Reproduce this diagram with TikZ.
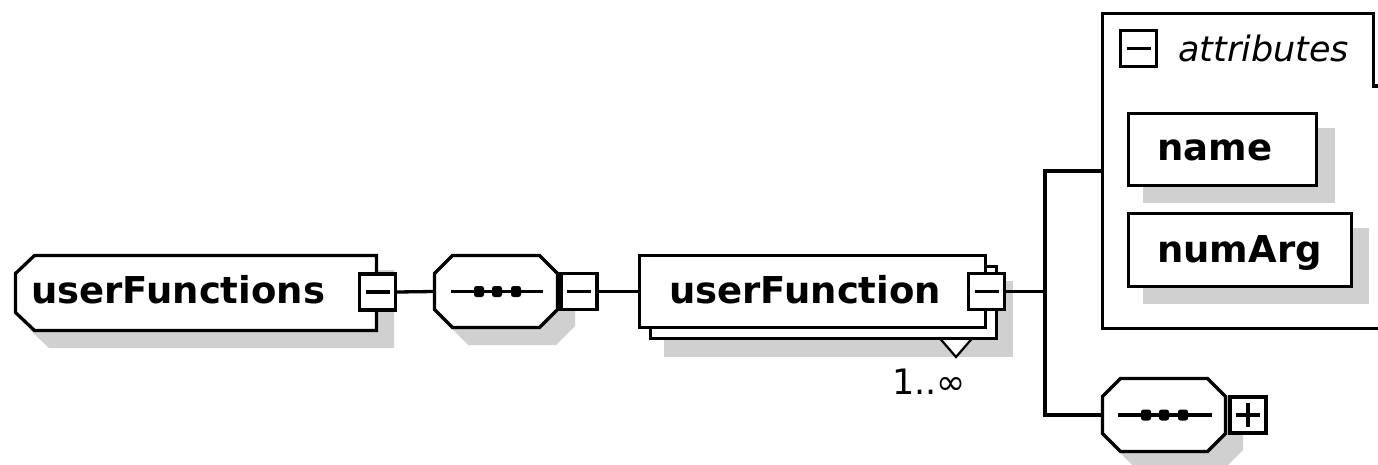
\documentclass[tikz,border=0pt]{standalone}
\usepackage{fontspec}
\setsansfont{DejaVu Sans}
\definecolor{shadowgray}{RGB}{208,208,208}
% octagon: left, top, right, bottom, chamfer
\newcommand\octa[5]{(#1+#5,#2) -- (#3-#5,#2) -- (#3,#2+#5) -- (#3,#4-#5) -- (#3-#5,#4) -- (#1+#5,#4) -- (#1,#4-#5) -- (#1,#2+#5) -- cycle}
% left-chamfered box: left, top, right, bottom, xchamfer, ychamfer
\newcommand\lchamf[6]{(#1+#5,#2) -- (#3,#2) -- (#3,#4) -- (#1+#5,#4) -- (#1,#4-#6) -- (#1,#2+#6) -- cycle}
% compositor dot (rounded square) at x,y
\newcommand\seqdot[2]{(#1-5,#2-5.5) rectangle (#1+5,#2+5.5)}
\begin{document}
\begin{tikzpicture}[x=1pt,y=-1pt,
  ln/.style={line width=3.3pt, draw=black},
  shd/.style={fill=shadowgray, draw=none},
  elem/.style={rectangle, draw=black, fill=white, line width=3.3pt, inner sep=0pt},
  hole/.style={rectangle, inner sep=0pt, draw=none},
  pmbox/.style={rectangle, draw=black, fill=white, line width=3.3pt, inner sep=0pt,
    minimum width=36pt, minimum height=36pt},
  minus/.style={pmbox, path picture={\draw[line width=3.3pt]
    ([xshift=6pt]path picture bounding box.west) -- ([xshift=-6pt]path picture bounding box.east);}},
  plus/.style={pmbox, path picture={\draw[line width=3.3pt]
    ([xshift=6pt]path picture bounding box.west) -- ([xshift=-6pt]path picture bounding box.east)
    ([yshift=-6pt]path picture bounding box.north) -- ([yshift=6pt]path picture bounding box.south);}},
  lblb/.style={font=\sffamily\bfseries\fontsize{37}{44}\selectfont, inner sep=0pt, anchor=base west},
  lblr/.style={font=\sffamily\fontsize{35}{42}\selectfont, inner sep=0pt, anchor=base west},
  lbli/.style={font=\sffamily\itshape\fontsize{35}{42}\selectfont, inner sep=0pt, anchor=base west},
  dot/.style={fill=black, draw=none, rounded corners=2.5pt}
]
\useasboundingbox (0,0) rectangle (1378,465);
\clip (0,0) rectangle (1378,465);

% ---------- shadows ----------
\fill[shd] \lchamf{30}{270}{394}{348}{19}{18};
\fill[shd] \octa{449}{270}{575}{345}{19};
\fill[shd] (664,281) rectangle (1013,357);
\fill[shd] (1143,128) rectangle (1335,203);
\fill[shd] (1143,228) rectangle (1369,304);
\fill[shd] \octa{1117}{393}{1243}{469}{19};

% ---------- invisible anchor nodes ----------
\node[hole, minimum width=361pt, minimum height=75pt] (ufs) at (196,293) {};
\node[hole, minimum width=123pt, minimum height=72pt] (seq1) at (496,291.5) {};
\node[hole, minimum width=275pt, minimum height=315pt] (attr) at (1240,171) {};
\node[hole, minimum width=123pt, minimum height=73pt] (seq2) at (1164,415) {};
\coordinate (bus) at (1045,291.5);

% ---------- userFunctions ----------
\draw[ln, fill=white] \lchamf{15.5}{255.5}{376.5}{330.5}{19}{18};
\node[lblb] (ufsT) at (31,303) {userFunctions};
\node[minus] (m1) at (377.5,292) {};

% ---------- sequence 1 ----------
\draw[ln, fill=white] \octa{434.5}{255.5}{557.5}{327.5}{18};
\draw[ln] (451,291.5) -- (543,291.5);
\fill[dot] \seqdot{479}{291.5} \seqdot{497}{291.5} \seqdot{516}{291.5};
\node[minus] (m2) at (579,291.5) {};

% ---------- userFunction ----------
\draw[line width=2.2pt, fill=white] (930,327) -- (982,327) -- (956,357) -- cycle;
\node[elem, minimum width=346pt, minimum height=72pt] (ufback) at (823.5,302.5) {};
\node[elem, minimum width=346pt, minimum height=72pt] (uf) at (812.5,291.5) {};
\node[lblb] (ufT) at (669,303) {userFunction};
\node[minus] (m3) at (986.5,291.5) {};
\node[lblr] (card) at (892,394) {1..∞};

% ---------- attributes ----------
\draw[ln] (1390,86) -- (1373.5,86) -- (1373.5,13.5) -- (1102.5,13.5) -- (1102.5,328.5) -- (1390,328.5);
\node[minus] (m4) at (1138.5,48.5) {};
\node[lbli] (attrT) at (1178,62) {attributes};
\node[elem, minimum width=188pt, minimum height=72pt] (name) at (1222.5,149.5) {};
\node[lblb] (nameT) at (1157,161) {name};
\node[elem, minimum width=223pt, minimum height=73pt] (numArg) at (1240,250) {};
\node[lblb] (numArgT) at (1157,262) {numArg};

% ---------- sequence 2 ----------
\draw[ln, fill=white] \octa{1102.5}{378.5}{1225.5}{451.5}{18};
\draw[ln] (1118,415) -- (1212,415);
\fill[dot] \seqdot{1146}{415} \seqdot{1164}{415} \seqdot{1183}{415};
\node[plus] (p4) at (1248,415) {};

% ---------- connectors ----------
\draw[ln] (m1.east) -- (seq1.west);
\draw[ln] (m2.east) -- (uf.west);
\draw[ln] (m3.east) -- (bus);
\draw[ln] (attr.west) -| (bus) |- (seq2.west);
\end{tikzpicture}
\end{document}
